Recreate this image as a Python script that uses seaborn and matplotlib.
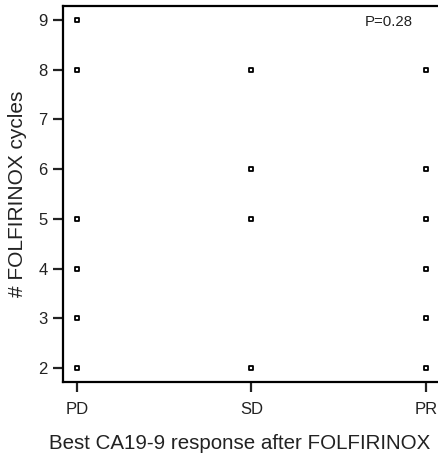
import matplotlib
matplotlib.use("Agg")
import matplotlib.pyplot as plt
import seaborn as sns
import pandas as pd

categories = ["PD", "SD", "PR"]
pd_cycles = [9, 8, 5, 4, 3, 2]
sd_cycles = [8, 6, 5, 2]
pr_cycles = [8, 6, 5, 4, 3, 2]
y_ticks = [2, 3, 4, 5, 6, 7, 8, 9]

df = pd.DataFrame({
    "response": ["PD"] * len(pd_cycles) + ["SD"] * len(sd_cycles) + ["PR"] * len(pr_cycles),
    "cycles": pd_cycles + sd_cycles + pr_cycles,
})

sns.set_style("ticks")
plt.rcParams["font.family"] = ["Liberation Sans", "DejaVu Sans"]

fig = plt.figure(figsize=(4.38, 4.57), dpi=100)
ax = fig.add_axes([0.1438, 0.1641, 0.8608, 0.8228])
sns.stripplot(data=df, x="response", y="cycles", order=categories, jitter=False,
              marker="s", size=3.2, color="white", edgecolor="black", linewidth=1.3, ax=ax)

ax.set_xlim(-0.08, 2.08)
ax.set_ylim(1.72, 9.28)
ax.set_yticks(y_ticks)
ax.set_xlabel("Best CA19-9 response after FOLFIRINOX", fontsize=14.8, color="#222222", labelpad=12)
ax.xaxis.label.set_x(0.4695)
ax.set_ylabel("# FOLFIRINOX cycles", fontsize=15, color="#222222", labelpad=8)
ax.tick_params(axis="y", length=7.5, width=1.6, labelsize=12, colors="#222222", pad=3.5)
ax.tick_params(axis="x", length=7.5, width=1.6, labelsize=12, colors="#222222", pad=7)
for s in ax.spines.values():
    s.set_linewidth(1.6)
    s.set_color("black")
ax.text(0.928, 0.958, "P=0.28", transform=ax.transAxes, ha="right", va="center",
        fontsize=10.8, color="#222222")

fig.savefig("out.png", dpi=100)
